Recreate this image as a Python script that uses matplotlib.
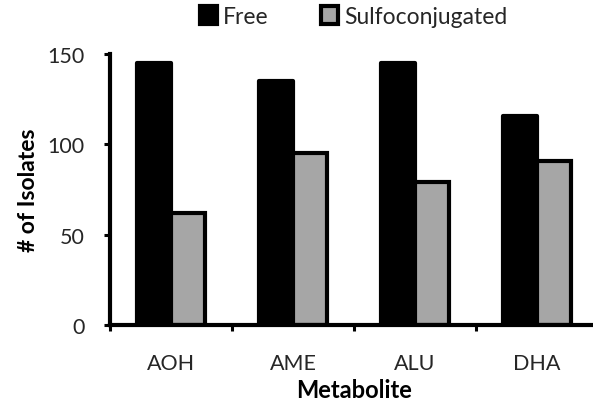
import numpy as np
import matplotlib
matplotlib.use("Agg")
import matplotlib.pyplot as plt

# data
metabolites = ["AOH", "AME", "ALU", "DHA"]
free = [145, 135, 145, 115.5]
sulfo = [62, 95, 79, 91]

plt.rcParams['font.family'] = ['Lato', 'DejaVu Sans']

fig = plt.figure(figsize=(5.93, 4.02), dpi=100)
ax = fig.add_axes([110 / 593, 76 / 402, 488 / 593, 271 / 402])

x = np.arange(len(metabolites))
w = 0.28
ax.bar(x - w / 2, free, w, color="black", edgecolor="black", linewidth=3,
       joinstyle="round", label="Free", zorder=2)
ax.bar(x + w / 2, sulfo, w, color="#a6a6a6", edgecolor="black", linewidth=3,
       label="Sulfoconjugated", zorder=3)

ax.set_xlim(-0.5, 3.5)
ax.set_ylim(0, 150)
ax.set_yticks([0, 50, 100, 150])

# category ticks sit between groups, labels in the middle
ax.set_xticks(np.arange(-0.5, 4.0, 1.0))
ax.set_xticklabels([])
ax.set_xticks(x, minor=True)
ax.set_xticklabels(metabolites, minor=True)
ax.tick_params(axis="x", which="minor", length=0, pad=20, labelsize=15.5, colors="#262626")
ax.tick_params(axis="x", which="major", direction="out", length=4.5, width=2.2)
ax.tick_params(axis="y", direction="out", length=4.5, width=2.2, pad=14,
               labelsize=15.5, labelcolor="#262626")

for s in ["top", "right"]:
    ax.spines[s].set_visible(False)
for s in ["left", "bottom"]:
    ax.spines[s].set_linewidth(3)
ax.spines["bottom"].set_zorder(4)

ax.set_ylabel("# of Isolates", fontsize=16.5, fontweight="bold")
ax.yaxis.set_label_coords(-0.145, 0.5)
ax.set_xlabel("Metabolite", fontsize=17, fontweight="bold")
ax.xaxis.set_label_coords(0.5, -0.196)

fig.legend(loc="center", bbox_to_anchor=(353.5 / 593, 1 - 17.5 / 402), ncol=2,
           frameon=False, fontsize=16.5, handlelength=0.75, handleheight=0.8,
           handletextpad=0.25, columnspacing=2.3, borderpad=0, labelcolor="#262626")

fig.savefig("out.png", dpi=100)
